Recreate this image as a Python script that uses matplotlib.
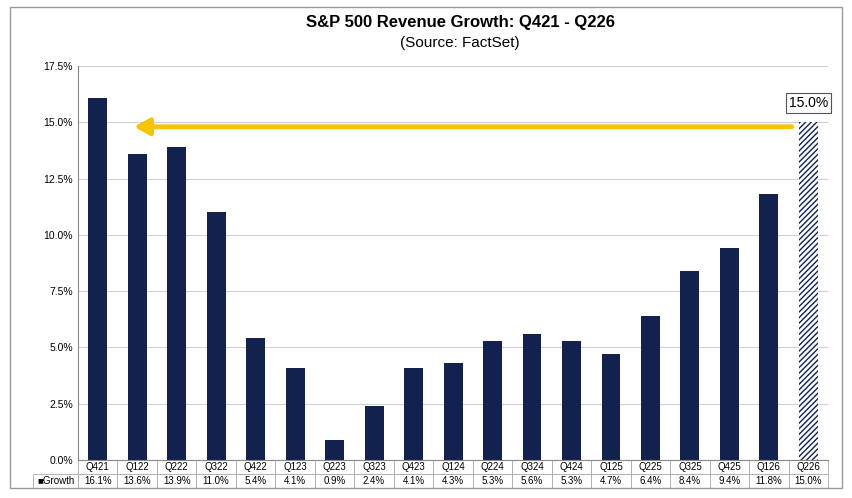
import matplotlib
matplotlib.use("Agg")
import matplotlib.pyplot as plt
from matplotlib.patches import Rectangle

quarters = ["Q421","Q122","Q222","Q322","Q422","Q123","Q223","Q323","Q423","Q124",
            "Q224","Q324","Q424","Q125","Q225","Q325","Q425","Q126","Q226"]
growth = [16.1,13.6,13.9,11.0,5.4,4.1,0.9,2.4,4.1,4.3,5.3,5.6,5.3,4.7,6.4,8.4,9.4,11.8,15.0]
yticks = [0,2.5,5,7.5,10,12.5,15,17.5]

plt.rcParams['font.family'] = ['Liberation Sans', 'DejaVu Sans']
navy = "#13214f"
fig = plt.figure(figsize=(8.52,4.98), dpi=100)
fig.patches.append(Rectangle((0.012,0.02),0.976,0.965, transform=fig.transFigure,
                             fill=False, ec="#999999", lw=1))
ax = fig.add_axes([0.0915,0.0763,0.8805,0.7912])
x = list(range(len(quarters)))
bars = ax.bar(x[:-1], growth[:-1], width=0.48, color=navy)
ax.bar(x[-1], growth[-1], width=0.48, color="white", edgecolor=navy, hatch="//////", lw=0)
ax.set_xlim(-0.5, len(x)-0.5)
ax.set_ylim(0,17.5)
ax.set_yticks(yticks)
ax.set_yticklabels([f"{v:.1f}%" for v in yticks], fontsize=7.5)
ax.set_xticks([])
ax.grid(axis='y', color="#d0d0d0", lw=0.8)
ax.set_axisbelow(True)
for s in ["top","right"]:
    ax.spines[s].set_visible(False)
ax.spines["left"].set_color("#888888")
ax.spines["bottom"].set_color("#888888")
ax.tick_params(axis='y', length=0)

ax.annotate("", xy=(0.85,14.8), xytext=(x[-1]-0.35,14.8),
            arrowprops=dict(arrowstyle="-|>,head_length=0.9,head_width=0.5", color="#f5c400", lw=3.5))
ax.text(x[-1], 15.85, "15.0%", ha="center", va="center", fontsize=10,
        bbox=dict(boxstyle="square,pad=0.2", fc="white", ec="#555555", lw=0.8))

tbl = ax.table(cellText=[[f"{v:.1f}%" for v in growth]], colLabels=quarters,
               rowLabels=["\u25a0Growth"], bbox=[0,-0.07,1,0.07], cellLoc="center")
tbl.auto_set_font_size(False)
tbl.set_fontsize(7)
for (r,c),cell in tbl.get_celld().items():
    cell.set_edgecolor("#aaaaaa"); cell.set_linewidth(0.6)
    if c == -1:
        cell.set_width(0.06)

fig.text(0.54,0.945,"S&P 500 Revenue Growth: Q421 - Q226", ha="center", fontsize=12, fontweight="bold")
fig.text(0.54,0.905,"(Source: FactSet)", ha="center", fontsize=11)
fig.savefig("out.png", dpi=100)
